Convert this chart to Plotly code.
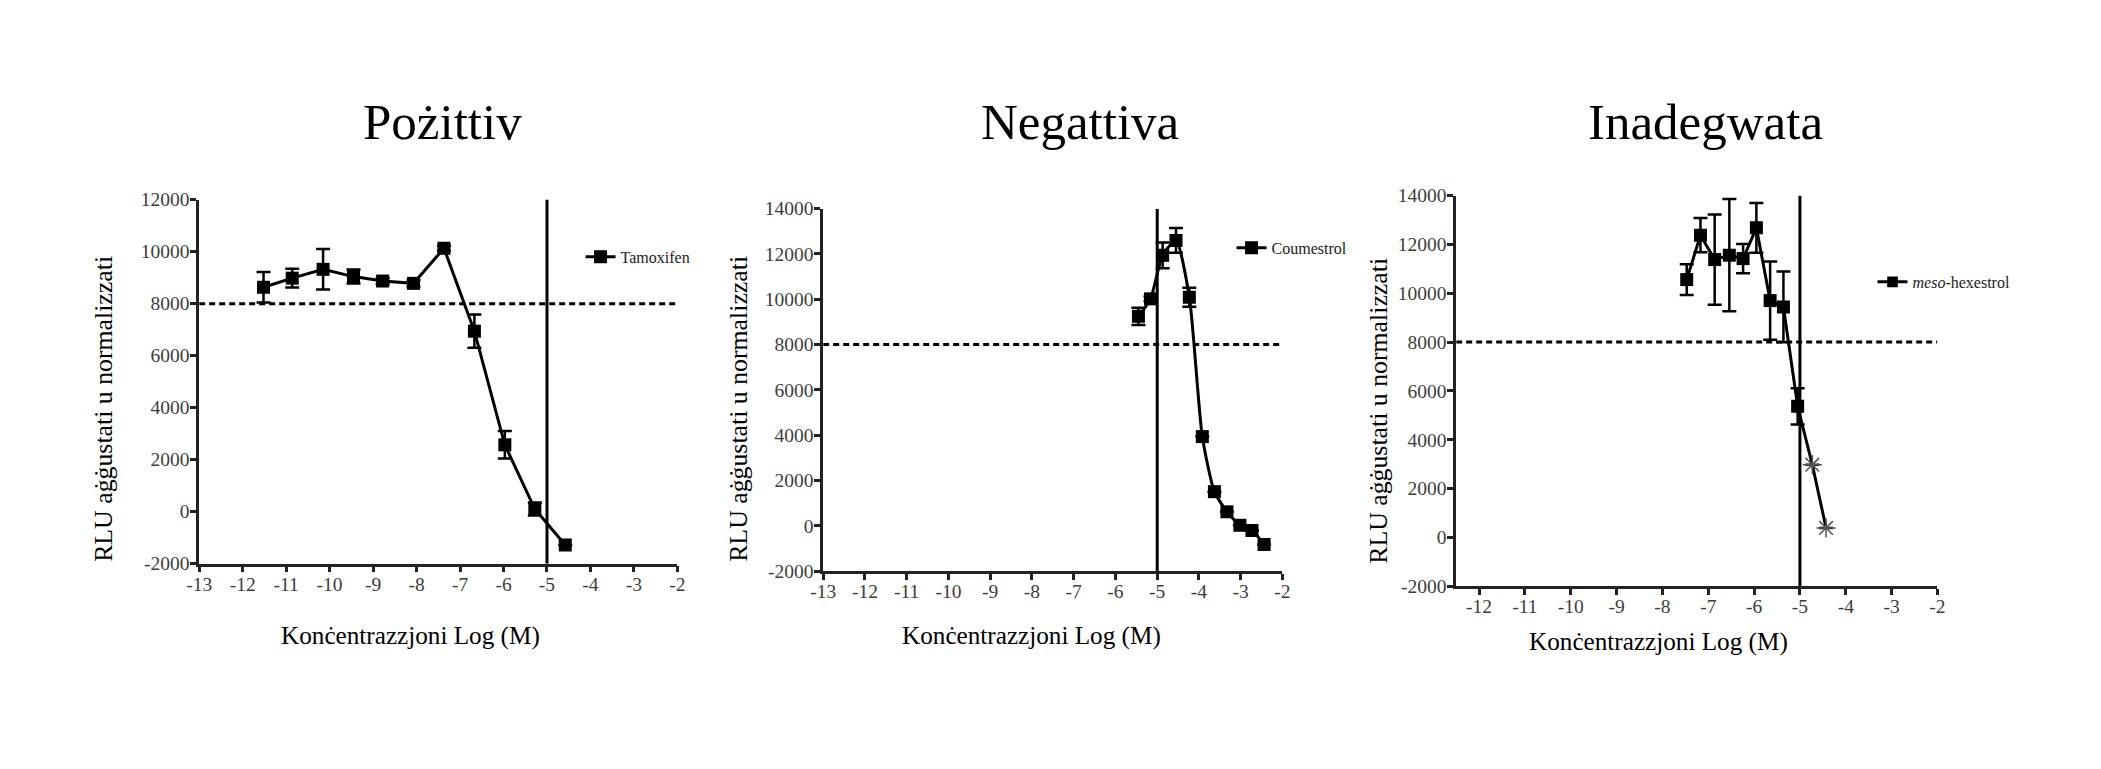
import plotly.graph_objects as go

PAGE_W, PAGE_H = 2101, 769
BODY_MARGIN = 8                      # default browser body margin around the figure
W, H = PAGE_W - 2 * BODY_MARGIN, PAGE_H - 2 * BODY_MARGIN
FONT = "Liberation Serif"

# ---------------- text ----------------
panel_titles = ["Pożittiv", "Negattiva", "Inadegwata"]
x_title = "Konċentrazzjoni Log (M)"
y_title = "RLU aġġustati u normalizzati"
series_names = ["Tamoxifen", "Coumestrol", "<i>meso</i>-hexestrol"]

# ---------------- data ----------------
tamoxifen_logM = [-11.52, -10.86, -10.15, -9.45, -8.78, -8.07, -7.37, -6.67, -5.97, -5.28, -4.58]
tamoxifen_rlu = [8630, 8980, 9320, 9040, 8870, 8780, 10130, 6940, 2570, 100, -1280]
tamoxifen_err = [590, 360, 780, 270, 120, 120, 100, 640, 530, 250, 0]

coumestrol_logM = [-5.45, -5.16, -4.87, -4.55, -4.23, -3.92, -3.63, -3.33, -3.02, -2.73, -2.44]
coumestrol_rlu = [9250, 10020, 11940, 12600, 10090, 3940, 1510, 620, 30, -200, -820]
coumestrol_err = [380, 100, 570, 550, 420, 0, 0, 0, 0, 0, 0]

hexestrol_logM = [-7.47, -7.17, -6.86, -6.54, -6.24, -5.95, -5.65, -5.36, -5.05, -4.73, -4.43]
hexestrol_rlu = [10560, 12380, 11380, 11560, 11420, 12680, 9700, 9440, 5370, 2980, 390]
hexestrol_err = [630, 700, 1850, 2300, 600, 1020, 1600, 1450, 740, 0, 0]
hexestrol_flagged = [False] * 9 + [True, True]   # points drawn as asterisks

cutoff_logM = -5          # vertical reference line
threshold_rlu = 8000      # dotted horizontal reference line

x_ranges = [[-13, -2], [-13, -2], [-12.5, -2]]
y_ranges = [[-2000, 12000], [-2000, 14000], [-2000, 14000]]
x_tickvals = [list(range(-13, -1)), list(range(-13, -1)), list(range(-12, -1))]
y_tickvals = [list(range(-2000, 12001, 2000)), list(range(-2000, 14001, 2000)),
              list(range(-2000, 14001, 2000))]

# ---------------- layout geometry (target pixels in the picture) ----------------
boxes = [(198, 677, 562.5, 200), (823, 1283, 570, 209), (1457, 1939, 585, 196)]
title_pos = [(442, 123), (1080, 123), (1707, 123)]
xtitle_pos = [(410, 635), (1032, 635), (1660, 641)]
ytitle_pos = [(102, 408), (738, 408), (1379, 410)]
legend_pos = [(580, 257), (1232, 248), (1874, 282)]

# observed page -> picture mapping of the renderer, compensated here
SX, BX = 0.9915, 11.6
SY, BY = 0.968, 11.4


def px(x):
    return ((x - BX) / SX - BODY_MARGIN) / W


def py(y):
    return 1 - ((y - BY) / SY - BODY_MARGIN) / H


datasets = [
    (tamoxifen_logM, tamoxifen_rlu, tamoxifen_err, [False] * len(tamoxifen_logM), "linear"),
    (coumestrol_logM, coumestrol_rlu, coumestrol_err, [False] * len(coumestrol_logM), "spline"),
    (hexestrol_logM, hexestrol_rlu, hexestrol_err, hexestrol_flagged, "linear"),
]

fig = go.Figure()
annotations = []
shapes = []

for i, (xs, ys, es, flags, shape) in enumerate(datasets):
    n = "" if i == 0 else str(i + 1)
    xa, ya = "x" + n, "y" + n
    lg = "legend" + n
    sizes = [0 if f else 13 for f in flags]
    fig.add_trace(go.Scatter(
        x=xs, y=ys, mode="lines+markers", name=series_names[i],
        xaxis=xa, yaxis=ya, legend=lg, showlegend=True,
        line=dict(color="black", width=3, shape=shape, smoothing=0.6),
        marker=dict(symbol="square", size=sizes, color="black", opacity=1,
                    line=dict(color="black", width=0)),
        error_y=dict(type="data", array=es, visible=True, color="black",
                     thickness=2.5, width=7),
        hoverinfo="x+y",
    ))
    fx = [x for x, f in zip(xs, flags) if f]
    fy = [y for y, f in zip(ys, flags) if f]
    if fx:
        fig.add_trace(go.Scatter(
            x=fx, y=fy, mode="markers", xaxis=xa, yaxis=ya, showlegend=False,
            marker=dict(symbol="asterisk-open", size=16, color="#555555",
                        line=dict(color="#555555", width=1.5)),
            hoverinfo="x+y",
        ))

    l, r, b, t = boxes[i]
    axis_common = dict(showline=True, linecolor="#222222", linewidth=2.5,
                       ticks="outside", ticklen=6, tickwidth=2.5, tickcolor="#222222",
                       showgrid=False, zeroline=False,
                       tickfont=dict(family=FONT, size=19.5, color="#3c3c3c"))
    fig.update_layout(**{
        "xaxis" + n: dict(domain=[px(l), px(r)], range=x_ranges[i], anchor=ya,
                          tickvals=x_tickvals[i], ticklabelstandoff=-5,
                          ticktext=[str(v) for v in x_tickvals[i]], **axis_common),
        "yaxis" + n: dict(domain=[py(b), py(t)], range=y_ranges[i], anchor=xa,
                          tickvals=y_tickvals[i], ticklabelstandoff=-3,
                          ticktext=[str(v) for v in y_tickvals[i]], **axis_common),
        lg: dict(x=px(legend_pos[i][0]), y=py(legend_pos[i][1]), xanchor="left",
                 yanchor="middle", bgcolor="rgba(0,0,0,0)", itemwidth=30,
                 font=dict(family=FONT, size=16, color="#222222")),
    })

    # reference lines
    shapes.append(dict(type="line", xref=xa, yref=ya, x0=cutoff_logM, x1=cutoff_logM,
                       y0=y_ranges[i][0], y1=y_ranges[i][1],
                       line=dict(color="black", width=3), layer="below"))
    shapes.append(dict(type="line", xref=xa, yref=ya, x0=x_ranges[i][0], x1=x_ranges[i][1],
                       y0=threshold_rlu, y1=threshold_rlu,
                       line=dict(color="black", width=3, dash="6px,4px"), layer="below"))

    annotations.append(dict(text=panel_titles[i], x=px(title_pos[i][0]), y=py(title_pos[i][1]),
                            xref="paper", yref="paper", showarrow=False,
                            xanchor="center", yanchor="middle",
                            font=dict(family=FONT, size=51, color="black")))
    annotations.append(dict(text=x_title, x=px(xtitle_pos[i][0]), y=py(xtitle_pos[i][1]),
                            xref="paper", yref="paper", showarrow=False,
                            xanchor="center", yanchor="middle",
                            font=dict(family=FONT, size=25.2, color="black")))
    annotations.append(dict(text=y_title, x=px(ytitle_pos[i][0]), y=py(ytitle_pos[i][1]),
                            xref="paper", yref="paper", showarrow=False, textangle=-90,
                            xanchor="center", yanchor="middle",
                            font=dict(family=FONT, size=25.8, color="black")))

fig.update_layout(width=W, height=H, autosize=False,
                  margin=dict(l=0, r=0, t=0, b=0),
                  paper_bgcolor="white", plot_bgcolor="white",
                  annotations=annotations, shapes=shapes)

fig.write_html("out.html", config={"displayModeBar": False})
